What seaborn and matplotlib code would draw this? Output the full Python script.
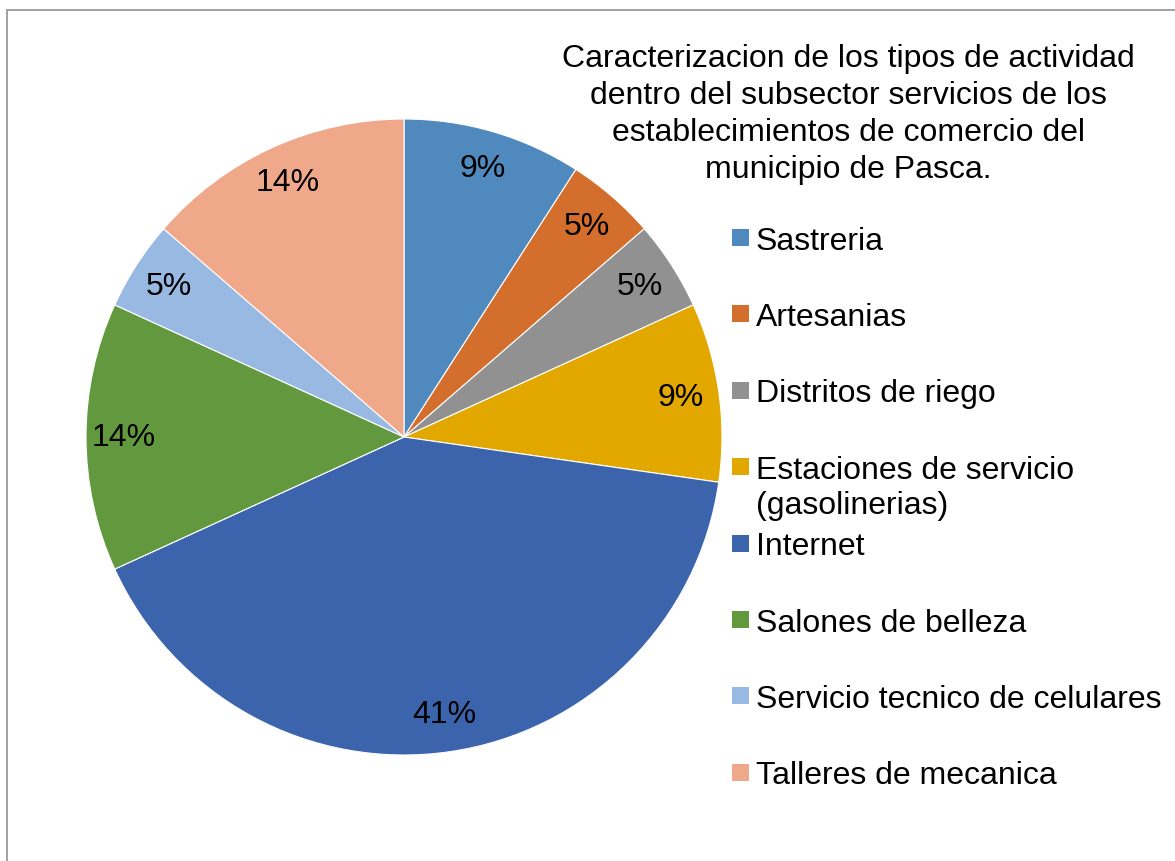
import matplotlib
matplotlib.use("Agg")
import matplotlib.pyplot as plt
import matplotlib.patches as mpatches
import seaborn as sns

# Data (counts of establishments, 22 in total)
categories = [
    "Sastreria",
    "Artesanias",
    "Distritos de riego",
    "Estaciones de servicio\n(gasolinerias)",
    "Internet",
    "Salones de belleza",
    "Servicio tecnico de celulares",
    "Talleres de mecanica",
]
counts = [2, 1, 1, 2, 9, 3, 1, 3]
colors = ["#4F89BD", "#D36E2C", "#919191", "#E3A800",
          "#3C64AD", "#63993E", "#98B9E1", "#F0A88A"]
title = ("Caracterizacion de los tipos de actividad\n"
         "dentro del subsector servicios de los\n"
         "establecimientos de comercio del\n"
         "municipio de Pasca.")

sns.set_style("white")
plt.rcParams["font.family"] = ["Liberation Sans", "DejaVu Sans"]

W, H = 1175, 862
fig = plt.figure(figsize=(W / 100, H / 100), dpi=100)

# pie axes: centre (404, 438) px, radius 318 px
cx, cy, r = 404, 438, 318
ax = fig.add_axes([(cx - r) / W, (H - cy - r) / H, 2 * r / W, 2 * r / H])
wedges, _, autotexts = ax.pie(
    counts,
    colors=colors,
    startangle=90,
    counterclock=False,
    autopct="%1.0f%%",
    pctdistance=0.88,
    wedgeprops=dict(edgecolor="white", linewidth=0.8),
    textprops=dict(fontsize=23, color="black"),
)
ax.set_xlim(-1, 1)
ax.set_ylim(-1, 1)
ax.set_aspect("equal")
ax.axis("off")

# title on the right
fig.text(848 / W, 1 - 44 / H, title, ha="center", va="top",
         fontsize=23, linespacing=1.3, color="black")

# legend, Excel style: equal slots, marker aligned with the first line
slot0, step = 238.5, 76.4
sq = 17
for i, (cat, col) in enumerate(zip(categories, colors)):
    yc = slot0 + i * step
    fig.patches.append(mpatches.Rectangle(
        (732 / W, 1 - (yc + sq / 2) / H), sq / W, sq / H,
        transform=fig.transFigure, facecolor=col, edgecolor="none"))
    fig.text(756 / W, 1 - (yc - 12) / H, cat, ha="left", va="top",
             fontsize=23, linespacing=1.22, color="black")

# thin frame around the chart area
fig.patches.append(mpatches.Rectangle(
    (6.5 / W, -0.1), 1.2, 1 - 11 / H + 0.1, transform=fig.transFigure,
    fill=False, edgecolor="#9A9A9A", linewidth=1.3))

fig.savefig("out.png", dpi=100, facecolor="white")
